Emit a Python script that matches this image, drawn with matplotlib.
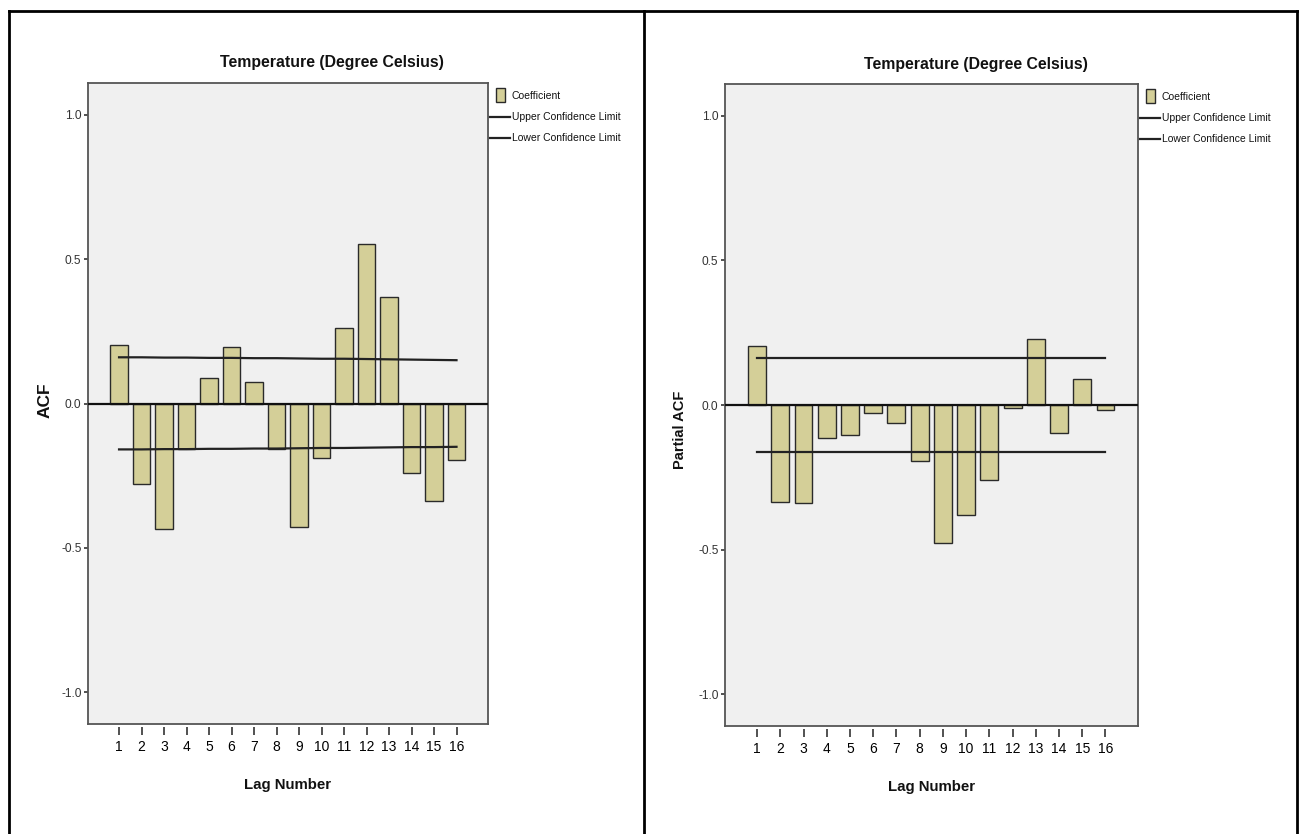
import matplotlib
matplotlib.use("Agg")
import matplotlib.pyplot as plt
from matplotlib import font_manager
from matplotlib.lines import Line2D
from matplotlib.patches import Rectangle

# ---------------- data ----------------
lags = list(range(1, 17))
acf_values = [0.202, -0.280, -0.434, -0.157, 0.087, 0.196, 0.075, -0.159,
              -0.427, -0.188, 0.262, 0.551, 0.370, -0.239, -0.336, -0.195]
acf_upper = [0.160, 0.160, 0.159, 0.159, 0.158, 0.158, 0.157, 0.157,
             0.156, 0.155, 0.155, 0.154, 0.153, 0.152, 0.151, 0.150]
acf_lower = [-0.159, -0.159, -0.158, -0.158, -0.157, -0.157, -0.156, -0.156,
             -0.155, -0.154, -0.154, -0.153, -0.152, -0.151, -0.151, -0.150]
pacf_values = [0.204, -0.334, -0.340, -0.114, -0.105, -0.026, -0.061, -0.192,
               -0.476, -0.379, -0.258, -0.011, 0.229, -0.098, 0.089, -0.017]
pacf_upper = [0.161] * 16
pacf_lower = [-0.161] * 16
y_ticks = [-1.0, -0.5, 0.0, 0.5, 1.0]
y_ticklabels = ["-1.0", "-0.5", "0.0", "0.5", "1.0"]
title_text = "Temperature (Degree Celsius)"
legend_labels = ["Coefficient", "Upper Confidence Limit", "Lower Confidence Limit"]

# ---------------- fonts ----------------
names = {f.name for f in font_manager.fontManager.ttflist}
if "Liberation Sans Narrow" in names:
    FAM = ["Liberation Sans Narrow", "DejaVu Sans"]
    k = 1.2
else:
    FAM = ["Liberation Sans", "DejaVu Sans"]
    k = 1.0
plt.rcParams["font.family"] = FAM

W, H = 1303, 834
fig = plt.figure(figsize=(W / 100, H / 100), dpi=100)
fig.patch.set_facecolor("white")

BAR = "#d4cf98"
BG = "#f0f0f0"
EDGE = "#2a2a2a"
LINE = "#222222"
FRAME = "#555555"


def fx(x):
    return x / W


def fy(y):
    return 1 - y / H


def px(x0, y0, x1, y1):
    return [x0 / W, 1 - y1 / H, (x1 - x0) / W, (y1 - y0) / H]


def draw(box, values, upper, lower, title_y, xlabel_y, ylabel, ylabel_xy, ylabel_fs):
    x0, y0, x1, y1 = box
    ax = fig.add_axes(px(*box))
    ax.set_facecolor(BG)
    ax.bar(lags, values, width=0.77, color=BAR, edgecolor=EDGE,
           linewidth=1.0, zorder=2)
    ax.plot(lags, upper, color=LINE, lw=1.6, zorder=3)
    ax.plot(lags, lower, color=LINE, lw=1.6, zorder=3)
    ax.axhline(0, color="#111111", lw=1.6, zorder=4)
    ax.set_xlim(-0.38, 17.4)
    ax.set_ylim(-1.11, 1.11)
    ax.set_xticks(lags)
    ax.set_xticklabels([str(l) for l in lags], fontsize=7.6 * k, color="#222222")
    ax.set_yticks(y_ticks)
    ax.set_yticklabels(y_ticklabels, fontsize=8.6 * k, color="#333333")
    ax.tick_params(axis="x", direction="out", length=6, width=1.2,
                   color="#333333", pad=3.4)
    ax.tick_params(axis="y", direction="out", length=3.2, width=1.2,
                   color="#333333", pad=1.5)
    for s in ax.spines.values():
        s.set_color(FRAME)
        s.set_linewidth(1.3)
    # x ticks start a little below the frame
    ax.spines["bottom"].set_position(("outward", 2.2))
    ax.spines["bottom"].set_color("none")
    ax.plot([0, 1], [0, 0], transform=ax.transAxes, color=FRAME, lw=1.3,
            clip_on=False, zorder=5)

    # legend, placed at the right of the frame
    fig.add_artist(Rectangle((fx(x1 + 7.5), fy(y0 + 18.5)), 9 / W, 13 / H,
                             transform=fig.transFigure, facecolor=BAR,
                             edgecolor=EDGE, lw=1.0))
    fig.text(fx(x1 + 24), fy(y0 + 13), legend_labels[0], ha="left", va="center",
             fontsize=7.5 * k, color="#111111")
    for yy, lab in zip([y0 + 34, y0 + 55], legend_labels[1:]):
        fig.add_artist(Line2D([fx(x1 + 2), fx(x1 + 22)], [fy(yy), fy(yy)],
                              transform=fig.transFigure, color=LINE, lw=1.6))
        fig.text(fx(x1 + 23.5), fy(yy), lab, ha="left", va="center",
                 fontsize=7.5 * k, color="#111111")

    cx = (x0 + x1) / 2
    fig.text(fx(cx + 44), fy(title_y), title_text, ha="center", va="center",
             fontsize=11.4 * k, fontweight="bold", color="#111111")
    fig.text(fx(cx), fy(xlabel_y), "Lag Number", ha="center", va="center",
             fontsize=10.8 * k, fontweight="bold", color="#111111")
    fig.text(fx(ylabel_xy[0]), fy(ylabel_xy[1]), ylabel, ha="center",
             va="center", rotation=90, fontsize=ylabel_fs, fontweight="bold",
             color="#111111", family=["Liberation Sans", "DejaVu Sans"])
    return ax


draw((88, 83, 488, 724), acf_values, acf_upper, acf_lower,
     62, 785, "ACF", (45, 400), 12.5)
draw((725, 84, 1138, 726), pacf_values, pacf_upper, pacf_lower,
     65, 787, "Partial ACF", (680, 430), 10.5)

# outer table frame
frame_kw = dict(color="black", lw=2.0, transform=fig.transFigure)
fig.add_artist(Line2D([fx(9), fx(1297)], [fy(11), fy(11)], **frame_kw))
fig.add_artist(Line2D([fx(9), fx(9)], [fy(11), 0], **frame_kw))
fig.add_artist(Line2D([fx(1297), fx(1297)], [fy(11), 0], **frame_kw))
fig.add_artist(Line2D([fx(644), fx(644)], [fy(11), 0], **frame_kw))

fig.savefig("out.png", dpi=100, facecolor="white")
